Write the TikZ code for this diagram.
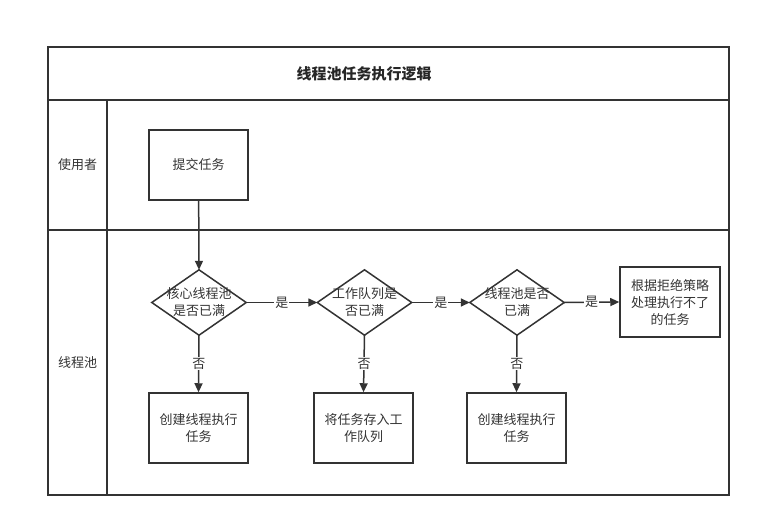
\documentclass[tikz,border=0pt]{standalone}
\usepackage{fontspec}
\setmainfont{Noto Sans CJK SC}
\usetikzlibrary{arrows.meta}
\definecolor{linegray}{HTML}{333333}
\tikzset{
    task-box/.style = {draw=linegray, line width=1.5pt, rectangle, minimum width=99pt, minimum height=70pt, align=center, text=linegray, font=\fontsize{13}{17}\selectfont},
    check-box/.style = {rectangle, minimum width=94pt, minimum height=65pt, inner sep=0pt, align=center, text=linegray, font=\fontsize{13}{17}\selectfont},
    flow-arrow/.style = {draw=linegray, line width=1.5pt, -{Triangle[length=9pt,width=8pt]}},
    flow-label/.style = {fill=white, inner sep=1pt, text=linegray, font=\fontsize{13}{15}\selectfont},
    lane-line/.style = {draw=linegray, line width=1.2pt},
    lane-title/.style = {text=linegray, font=\fontsize{13}{15}\selectfont},
}
\begin{document}
\begin{tikzpicture}[x=1pt, y=-1pt]
\useasboundingbox (0,0) rectangle (761,528);
% swimlanes
\draw[lane-line] (48,47) rectangle (729,495);
\draw[lane-line] (48,100) -- (729,100);
\draw[lane-line] (48,230) -- (729,230);
\draw[lane-line] (107,100) -- (107,495);
\node[lane-title, text=black!85, font=\fontsize{15}{17}\selectfont\bfseries] (title) at (364,74) {线程池任务执行逻辑};
\node[lane-title] (user-lane) at (77.5,165) {使用者};
\node[lane-title] (pool-lane) at (77.5,362.5) {线程池};

% nodes
\node[task-box] (submit) at (198.5,165) {提交任务};
\node[check-box] (core-full) at (199,302.5) {核心线程池\\是否已满};
\node[check-box] (queue-full) at (364.5,302.5) {工作队列是\\否已满};
\node[check-box] (pool-full) at (517,302.5) {线程池是否\\已满};
\node[task-box, minimum width=100pt] (reject) at (670,302) {根据拒绝策略\\处理执行不了\\的任务};
\node[task-box] (new-core) at (198.5,428) {创建线程执行\\任务};
\node[task-box] (enqueue) at (363.5,428) {将任务存入工\\作队列};
\node[task-box] (new-thread) at (516.5,428) {创建线程执行\\任务};

% diamonds
\foreach \n in {core-full, queue-full, pool-full}
    \draw[draw=linegray, line width=1.5pt] (\n.north) -- (\n.east) -- (\n.south) -- (\n.west) -- cycle;

% arrows
\draw[flow-arrow] (submit) -- (core-full.north);
\draw[flow-arrow] (core-full.east) -- node[flow-label] {是} (queue-full.west);
\draw[flow-arrow] (queue-full.east) -- node[flow-label] {是} (pool-full.west);
\draw[flow-arrow] (pool-full.east) -- node[flow-label] {是} (reject.west);
\draw[flow-arrow] (core-full.south) -- node[flow-label] {否} (new-core.north);
\draw[flow-arrow] (queue-full.south) -- node[flow-label] {否} (enqueue.north);
\draw[flow-arrow] (pool-full.south) -- node[flow-label] {否} (new-thread.north);
\end{tikzpicture}
\end{document}
